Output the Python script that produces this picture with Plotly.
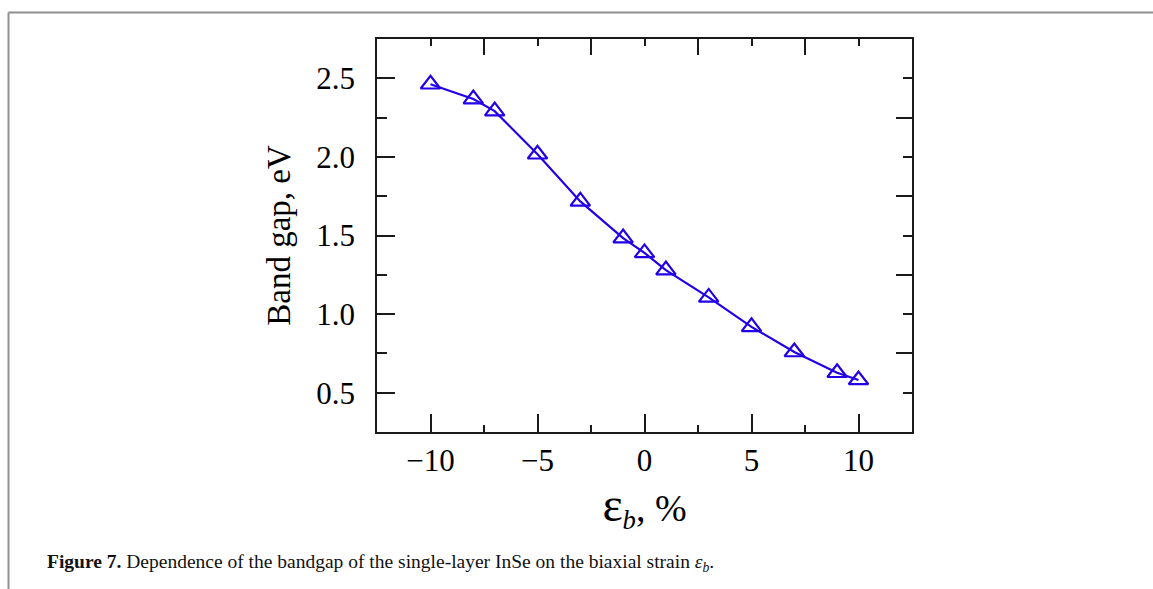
import plotly.graph_objects as go

strain = [-10, -8, -7, -5, -3, -1, 0, 1, 3, 5, 7, 9, 10]
band_gap = [2.462, 2.368, 2.291, 2.017, 1.717, 1.483, 1.389, 1.280, 1.106, 0.919, 0.759, 0.627, 0.581]

x_ticks = [-10, -5, 0, 5, 10]
x_tick_labels = ["\u221210", "\u22125", "0", "5", "10"]
y_ticks = [0.5, 1.0, 1.5, 2.0, 2.5]
y_tick_labels = ["0.5", "1.0", "1.5", "2.0", "2.5"]

FONT = "Liberation Serif"
BLUE = "#2200e6"
AX = "#1a1a1a"

W, H = 1153, 589
L, R, T, B = 377, 912, 39, 432
pw, ph = R - L, B - T

def px(x):
    return (x - L) / pw

def py(y):
    return (B - y) / ph

fig = go.Figure()
fig.add_trace(go.Scatter(
    x=strain, y=band_gap, mode="lines+markers",
    line=dict(color=BLUE, width=2.2),
    marker=dict(symbol="triangle-up-open", size=17, color=BLUE, line=dict(width=2.2, color=BLUE)),
    showlegend=False,
))
fig.add_trace(go.Scatter(x=[None], y=[None], xaxis="x2", yaxis="y2", showlegend=False))

xr = [-12.5, 12.5]
yr = [0.25, 2.75]

fig.update_layout(
    width=W, height=H,
    margin=dict(l=L, r=W - R, t=T, b=H - B),
    paper_bgcolor="white", plot_bgcolor="white",
    font=dict(family=FONT, color="black"),
    xaxis=dict(
        range=xr, tickvals=x_ticks, ticktext=x_tick_labels,
        ticks="inside", ticklen=18, tickwidth=1.5, tickcolor=AX,
        minor=dict(tickvals=[-7.5, -2.5, 2.5, 7.5], ticks="inside", ticklen=7, tickwidth=1.5, tickcolor=AX),
        showline=True, linecolor=AX, linewidth=1.5, mirror=False,
        showgrid=False, zeroline=False,
        tickfont=dict(size=31, family=FONT), ticklabelstandoff=0,
        title=dict(text='<span style="font-size:48px">\u03b5</span><sub><i>b</i></sub>, %',
                   font=dict(size=38, family=FONT), standoff=2),
    ),
    yaxis=dict(
        range=yr, tickvals=y_ticks, ticktext=y_tick_labels,
        ticks="inside", ticklen=18, tickwidth=1.5, tickcolor=AX,
        minor=dict(tickvals=[0.75, 1.25, 1.75, 2.25], ticks="inside", ticklen=10, tickwidth=1.5, tickcolor=AX),
        showline=True, linecolor=AX, linewidth=1.5,
        showgrid=False, zeroline=False,
        tickfont=dict(size=31, family=FONT), ticklabelstandoff=14,
        title=dict(text="Band gap, eV", font=dict(size=33, family=FONT), standoff=16),
    ),
    xaxis2=dict(
        range=xr, overlaying="x", side="top", anchor="y2",
        tickvals=x_ticks, showticklabels=False,
        ticks="inside", ticklen=7, tickwidth=1.5, tickcolor=AX,
        minor=dict(tickvals=[-7.5, -2.5, 2.5, 7.5], ticks="inside", ticklen=16, tickwidth=1.5, tickcolor=AX),
        showline=True, linecolor=AX, linewidth=1.5, showgrid=False, zeroline=False,
    ),
    yaxis2=dict(
        range=yr, overlaying="y", side="right", anchor="x2",
        tickvals=y_ticks, showticklabels=False,
        ticks="inside", ticklen=9, tickwidth=1.5, tickcolor=AX,
        minor=dict(tickvals=[0.75, 1.25, 1.75, 2.25], ticks="inside", ticklen=16, tickwidth=1.5, tickcolor=AX),
        showline=True, linecolor=AX, linewidth=1.5, showgrid=False, zeroline=False,
    ),
    shapes=[
        dict(type="line", xref="paper", yref="paper", x0=px(8.5), x1=px(W + 5), y0=py(12.5), y1=py(12.5),
             line=dict(color="#8f8f8f", width=2)),
        dict(type="line", xref="paper", yref="paper", x0=px(8.5), x1=px(8.5), y0=py(12.5), y1=py(H + 5),
             line=dict(color="#8f8f8f", width=2)),
    ],
    annotations=[
        dict(xref="paper", yref="paper", x=px(45), y=py(563), xanchor="left", yanchor="middle",
             showarrow=False, align="left",
             text="<b>Figure 7.</b> Dependence of the bandgap of the single-layer InSe on the biaxial strain <i>\u03b5<sub>b</sub></i>.",
             font=dict(size=19.5, family=FONT, color="#111")),
    ],
)

fig.write_html("out.html", config={"displayModeBar": False},
               post_script="document.body.style.margin='0';document.body.style.overflow='hidden';")
